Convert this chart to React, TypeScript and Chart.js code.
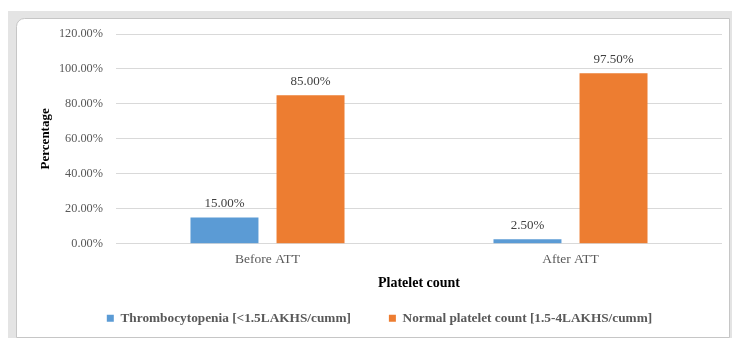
import React, { useEffect, useRef } from "react";
import { Chart, registerables } from "chart.js";

Chart.register(...registerables);

const categories = ["Before ATT", "After ATT"];
const seriesNames = [
  "Thrombocytopenia [<1.5LAKHS/cumm]",
  "Normal platelet count [1.5-4LAKHS/cumm]",
];
const thrombocytopenia = [15.0, 2.5];
const normalCount = [85.0, 97.5];
const seriesColors = ["#5B9BD5", "#ED7D31"];
const yTitle = "Percentage";
const xTitle = "Platelet count";

const SERIF = "'Liberation Serif', 'Times New Roman', serif";

const framePlugin = {
  id: "frame",
  beforeDraw(chart: any) {
    const ctx = chart.ctx;
    ctx.save();
    ctx.fillStyle = "#ffffff";
    ctx.fillRect(0, 0, chart.width, chart.height);
    ctx.fillStyle = "#e4e4e4";
    ctx.fillRect(8, 11, 724, 327);
    ctx.fillStyle = "#ffffff";
    ctx.beginPath();
    (ctx as any).roundRect(16.5, 18.5, 713, 319, [8, 0, 0, 0]);
    ctx.fill();
    ctx.strokeStyle = "#c6c6c6";
    ctx.lineWidth = 1;
    ctx.stroke();
    ctx.restore();
  },
};

const dataLabelPlugin = {
  id: "dataLabels",
  afterDatasetsDraw(chart: any) {
    const ctx = chart.ctx;
    ctx.save();
    ctx.font = `13px ${SERIF}`;
    ctx.fillStyle = "#404040";
    ctx.textAlign = "center";
    ctx.textBaseline = "bottom";
    chart.data.datasets.forEach((ds: any, i: number) => {
      const meta = chart.getDatasetMeta(i);
      meta.data.forEach((el: any, j: number) => {
        const v = ds.data[j] as number;
        ctx.fillText(v.toFixed(2) + "%", el.x, el.y - 7);
      });
    });
    ctx.restore();
  },
};

export default function App() {
  const ref = useRef<HTMLCanvasElement>(null);
  useEffect(() => {
    if (!ref.current) return;
    const chart = new Chart(ref.current, {
      type: "bar",
      data: {
        labels: categories,
        datasets: [
          {
            label: seriesNames[0],
            data: thrombocytopenia,
            backgroundColor: seriesColors[0],
            categoryPercentage: 0.568,
            barPercentage: 0.79,
          },
          {
            label: seriesNames[1],
            data: normalCount,
            backgroundColor: seriesColors[1],
            categoryPercentage: 0.568,
            barPercentage: 0.79,
          },
        ],
      },
      options: {
        animation: false,
        responsive: false,
        layout: { padding: { left: 37, right: 12, top: 34, bottom: 5 } },
        plugins: {
          tooltip: { enabled: false },
          legend: {
            position: "bottom",
            labels: {
              boxWidth: 7,
              boxHeight: 7,
              padding: 38,
              color: "#595959",
              font: { family: SERIF, size: 13.3, weight: "bold" },
            },
          },
        },
        scales: {
          x: {
            grid: { display: false, drawTicks: false },
            border: { display: false },
            ticks: {
              color: "#595959",
              padding: 8,
              font: { family: SERIF, size: 13.5 },
            },
            title: {
              display: true,
              text: xTitle,
              color: "#000000",
              padding: { top: 0, bottom: -18.5 },
              font: { family: SERIF, size: 14, weight: "bold" },
            },
            afterFit: (s: any) => {
              s.height = 30;
            },
          },
          y: {
            min: 0,
            max: 120,
            grid: { color: "#d9d9d9", drawTicks: false },
            border: { display: false },
            ticks: {
              stepSize: 20,
              color: "#595959",
              padding: 13,
              font: { family: SERIF, size: 12.3 },
              callback: (v: any) => Number(v).toFixed(2) + "%",
            },
            title: {
              display: true,
              text: yTitle,
              color: "#000000",
              padding: { top: 1, bottom: 0 },
              font: { family: SERIF, size: 13, weight: "bold" },
            },
            afterFit: (s: any) => {
              s.width = 79;
            },
          },
        },
      },
      plugins: [framePlugin, dataLabelPlugin],
    });
    return () => chart.destroy();
  }, []);
  return (
    <div style={{ position: "absolute", left: 0, top: 0, width: 734, height: 340 }}>
      <canvas ref={ref} width={734} height={340} />
    </div>
  );
}
